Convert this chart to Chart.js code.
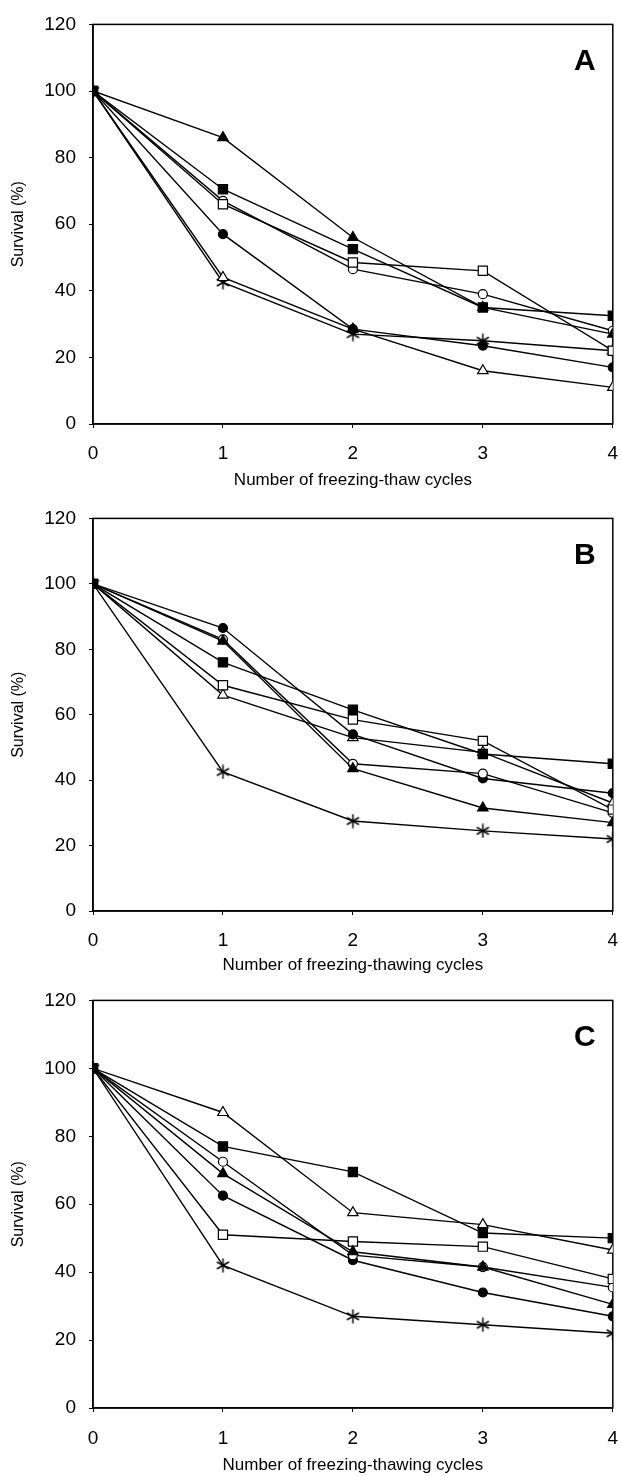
<!DOCTYPE html>
<html>
<head>
<meta charset="utf-8">
<script src="https://cdn.jsdelivr.net/npm/chart.js@4.4.1/dist/chart.umd.min.js"></script>
<style>
  html, body { margin: 0; padding: 0; background: #fff; }
  body { width: 621px; height: 1476px; position: relative; overflow: hidden; }
  canvas { position: absolute; left: 0; }
</style>
</head>
<body>
<canvas id="chartA" width="621" height="494" style="top:0px"></canvas>
<canvas id="chartB" width="621" height="482" style="top:494px"></canvas>
<canvas id="chartC" width="621" height="500" style="top:976px"></canvas>
<script>
// x values (number of cycles) and y ticks
const cycles = [0, 1, 2, 3, 4];
const yTicks = [0, 20, 40, 60, 80, 100, 120];

// Panel A - survival (%)
const aFilledTriangle = [100, 86, 56, 35, 27];
const aFilledSquare   = [100, 70.5, 52.5, 35, 32.5];
const aOpenSquare     = [100, 66, 48.5, 46, 22];
const aOpenCircle     = [100, 67, 46.5, 39, 28];
const aFilledCircle   = [100, 57, 28.5, 23.5, 17];
const aOpenTriangle   = [100, 44, 28.5, 16, 11];
const aStar           = [100, 42.5, 27, 25, 22];

// Panel B
const bFilledTriangle = [100, 82.5, 43.5, 31.5, 27];
const bFilledSquare   = [100, 76, 61.5, 48, 45];
const bOpenSquare     = [100, 69, 58.5, 52, 31];
const bOpenCircle     = [100, 83, 45, 42, 30];
const bFilledCircle   = [100, 86.5, 54, 40.5, 36];
const bOpenTriangle   = [100, 66, 53, 48.5, 33];
const bStar           = [100, 42.5, 27.5, 24.5, 22];

// Panel C
const cFilledTriangle = [100, 69, 46, 41.5, 30.5];
const cFilledSquare   = [100, 77, 69.5, 51.5, 50];
const cOpenSquare     = [100, 51, 49, 47.5, 38];
const cOpenCircle     = [100, 72.5, 45, 41.5, 35.5];
const cFilledCircle   = [100, 62.5, 43.5, 34, 27];
const cOpenTriangle   = [100, 87, 57.5, 54, 46.5];
const cStar           = [100, 42, 27, 24.5, 22];

// six-armed asterisk like the one in the figure
function asteriskImage(size) {
  const c = document.createElement('canvas');
  c.width = size; c.height = size;
  const g = c.getContext('2d');
  const r = size / 2 - 0.5, m = size / 2;
  g.strokeStyle = '#000';
  g.lineWidth = 1.5;
  [90, 30, 150].forEach(deg => {
    const a = deg * Math.PI / 180;
    g.beginPath();
    g.moveTo(m - r * Math.cos(a), m - r * Math.sin(a));
    g.lineTo(m + r * Math.cos(a), m + r * Math.sin(a));
    g.stroke();
  });
  return c;
}

// marker look for each series
const markers = {
  filledTriangle: { pointStyle: 'triangle', filled: true,  radius: 6 },
  filledSquare:   { pointStyle: 'rect',     filled: true,  radius: 6.5 },
  openSquare:     { pointStyle: 'rect',     filled: false, radius: 6.5 },
  openCircle:     { pointStyle: 'circle',   filled: false, radius: 4.5 },
  filledCircle:   { pointStyle: 'circle',   filled: true,  radius: 4.5 },
  openTriangle:   { pointStyle: 'triangle', filled: false, radius: 6 },
  star:           { pointStyle: asteriskImage(15), filled: false, radius: 7 }
};

const FONT = '"Liberation Sans", Arial, Helvetica, sans-serif';

// frame around the plot + the panel letter
const panelDecor = {
  id: 'panelDecor',
  beforeDatasetsDraw(chart, args, opts) {
    const { ctx, chartArea } = chart;
    ctx.save();
    ctx.strokeStyle = '#000';
    ctx.lineWidth = 1.5;
    ctx.strokeRect(chartArea.left, chartArea.top, chartArea.right - chartArea.left, chartArea.bottom - chartArea.top);
    ctx.fillStyle = '#000';
    ctx.font = 'bold 30px ' + FONT;
    ctx.textAlign = 'center';
    ctx.textBaseline = 'middle';
    ctx.fillText(opts.letter, chartArea.right - 28, chartArea.top + 37);
    ctx.restore();
  }
};

function makeDataset(values, kind) {
  const m = markers[kind];
  return {
    label: kind,
    data: cycles.map((c, i) => ({ x: c, y: values[i] })),
    borderColor: '#000',
    borderWidth: 1.4,
    tension: 0,
    pointStyle: m.pointStyle,
    pointRadius: m.radius,
    pointBackgroundColor: m.filled ? '#000' : '#fff',
    pointBorderColor: '#000',
    pointBorderWidth: 1.2
  };
}

function makeChart(id, letter, xTitle, series, geo) {
  const canvas = document.getElementById(id);
  new Chart(canvas.getContext('2d'), {
    type: 'line',
    data: {
      datasets: series.map(s => makeDataset(s[0], s[1]))
    },
    options: {
      responsive: false,
      animation: false,
      layout: { padding: { top: geo.top, right: 6, left: 0, bottom: 0 } },
      plugins: {
        legend: { display: false },
        tooltip: { enabled: false },
        panelDecor: { letter: letter }
      },
      scales: {
        x: {
          type: 'linear',
          min: cycles[0],
          max: cycles[cycles.length - 1],
          afterBuildTicks: s => { s.ticks = cycles.map(v => ({ value: v })); },
          afterFit: s => {
            s.height = canvas.height - geo.bottom;
            s.paddingLeft = 0;
            s.paddingRight = 0;
          },
          grid: { drawOnChartArea: false, drawTicks: true, tickLength: 4, color: '#000' },
          border: { color: '#000', width: 1.5 },
          ticks: { color: '#000', padding: geo.tickPad, font: { family: FONT, size: 19 } },
          title: {
            display: true,
            text: xTitle,
            color: '#000',
            padding: { top: 0, bottom: geo.titlePad },
            font: { family: FONT, size: 17 }
          }
        },
        y: {
          min: yTicks[0],
          max: yTicks[yTicks.length - 1],
          afterBuildTicks: s => { s.ticks = yTicks.map(v => ({ value: v })); },
          afterFit: s => { s.width = 93; },
          grid: { drawOnChartArea: false, drawTicks: true, tickLength: 4, color: '#000' },
          border: { color: '#000', width: 1.5 },
          ticks: { color: '#000', padding: 13, font: { family: FONT, size: 19 } },
          title: {
            display: true,
            text: 'Survival (%)',
            color: '#000',
            padding: { top: 9, bottom: 0 },
            font: { family: FONT, size: 16 }
          }
        }
      }
    },
    plugins: [panelDecor]
  });
}

makeChart('chartA', 'A', 'Number of freezing-thaw cycles', [
  [aFilledTriangle, 'filledTriangle'],
  [aFilledSquare, 'filledSquare'],
  [aOpenSquare, 'openSquare'],
  [aOpenCircle, 'openCircle'],
  [aFilledCircle, 'filledCircle'],
  [aOpenTriangle, 'openTriangle'],
  [aStar, 'star']
], { top: 24, bottom: 424, tickPad: 14.6, titlePad: 3 });

makeChart('chartB', 'B', 'Number of freezing-thawing cycles', [
  [bFilledTriangle, 'filledTriangle'],
  [bFilledSquare, 'filledSquare'],
  [bOpenSquare, 'openSquare'],
  [bOpenCircle, 'openCircle'],
  [bFilledCircle, 'filledCircle'],
  [bOpenTriangle, 'openTriangle'],
  [bStar, 'star']
], { top: 24, bottom: 417, tickPad: 14.6, titlePad: 0 });

makeChart('chartC', 'C', 'Number of freezing-thawing cycles', [
  [cFilledTriangle, 'filledTriangle'],
  [cFilledSquare, 'filledSquare'],
  [cOpenSquare, 'openSquare'],
  [cOpenCircle, 'openCircle'],
  [cFilledCircle, 'filledCircle'],
  [cOpenTriangle, 'openTriangle'],
  [cStar, 'star']
], { top: 24, bottom: 432, tickPad: 15.6, titlePad: 0 });
</script>
</body>
</html>
